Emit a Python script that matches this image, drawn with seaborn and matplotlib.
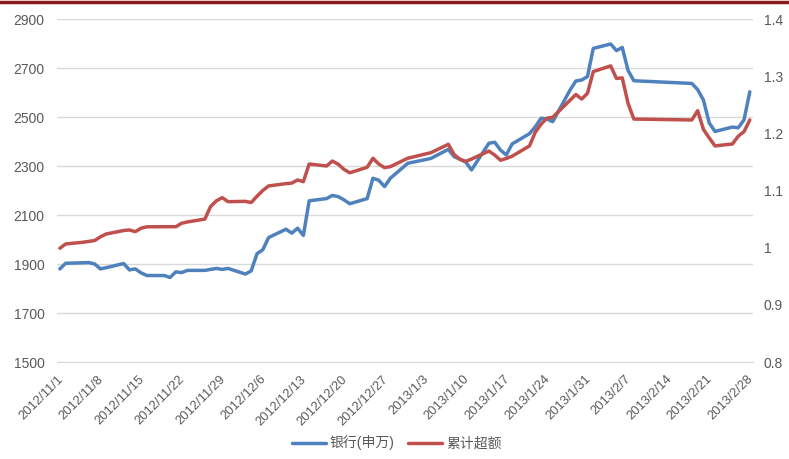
import pandas as pd
import numpy as np
import seaborn as sns
import matplotlib as mpl
from matplotlib import pyplot as plt
from matplotlib.lines import Line2D

## DATA
dates = ['2012-11-01', '2012-11-02', '2012-11-05', '2012-11-06', '2012-11-07', '2012-11-08', '2012-11-09',
         '2012-11-12', '2012-11-13', '2012-11-14', '2012-11-15', '2012-11-16',
         '2012-11-19', '2012-11-20', '2012-11-21', '2012-11-22', '2012-11-23',
         '2012-11-26', '2012-11-27', '2012-11-28', '2012-11-29', '2012-11-30',
         '2012-12-03', '2012-12-04', '2012-12-05', '2012-12-06', '2012-12-07',
         '2012-12-10', '2012-12-11', '2012-12-12', '2012-12-13', '2012-12-14',
         '2012-12-17', '2012-12-18', '2012-12-19', '2012-12-20', '2012-12-21',
         '2012-12-24', '2012-12-25', '2012-12-26', '2012-12-27', '2012-12-28',
         '2012-12-31', '2013-01-04',
         '2013-01-07', '2013-01-08', '2013-01-09', '2013-01-10', '2013-01-11',
         '2013-01-14', '2013-01-15', '2013-01-16', '2013-01-17', '2013-01-18',
         '2013-01-21', '2013-01-22', '2013-01-23', '2013-01-24', '2013-01-25',
         '2013-01-28', '2013-01-29', '2013-01-30', '2013-01-31', '2013-02-01',
         '2013-02-04', '2013-02-05', '2013-02-06', '2013-02-07', '2013-02-08',
         '2013-02-18', '2013-02-19', '2013-02-20', '2013-02-21', '2013-02-22',
         '2013-02-25', '2013-02-26', '2013-02-27', '2013-02-28']

bank_index = [1880, 1903, 1905, 1906, 1900, 1880, 1885,
              1902, 1876, 1880, 1864, 1853,
              1853, 1845, 1868, 1865, 1874,
              1874, 1878, 1882, 1878, 1882,
              1859, 1872, 1942, 1958, 2008,
              2042, 2026, 2046, 2017, 2158,
              2167, 2180, 2175, 2162, 2146,
              2167, 2250, 2242, 2216, 2250,
              2311, 2331,
              2368, 2338, 2328, 2316, 2284,
              2393, 2397, 2365, 2345, 2390,
              2432, 2460, 2495, 2492, 2481,
              2610, 2647, 2651, 2665, 2780,
              2798, 2771, 2784, 2690, 2648,
              2637, 2612, 2569, 2476, 2441,
              2459, 2456, 2488, 2603]

excess = [0.999, 1.0065, 1.0095, 1.011, 1.0125, 1.019, 1.024,
          1.030, 1.031, 1.028, 1.034, 1.0365,
          1.0367, 1.0367, 1.0367, 1.0427, 1.045,
          1.050, 1.072, 1.082, 1.0875, 1.0805,
          1.081, 1.079, 1.090, 1.100, 1.108,
          1.112, 1.113, 1.1184, 1.1155, 1.1464,
          1.1429, 1.1516, 1.146, 1.137, 1.131,
          1.1406, 1.1564, 1.1464, 1.140, 1.1417,
          1.1564, 1.1662,
          1.1808, 1.163, 1.1545, 1.151, 1.155,
          1.169, 1.162, 1.153, 1.156, 1.160,
          1.178, 1.202, 1.216, 1.2265, 1.228,
          1.258, 1.268, 1.260, 1.270, 1.308,
          1.318, 1.296, 1.297, 1.2525, 1.225,
          1.2234, 1.2396, 1.207, 1.192, 1.178,
          1.1814, 1.195, 1.203, 1.2234]

label_bank = '银行(申万)'
label_excess = '累计超额'

df = pd.DataFrame({'date': pd.to_datetime(dates), 'bank': bank_index, 'excess': excess})
# excel date axis puts each point in the middle of its day slot
df['date'] = df['date'] + pd.Timedelta(hours=12)

sns.set_style('white')
plt.rcParams['font.family'] = ['Liberation Sans', 'Noto Sans CJK SC', 'DejaVu Sans']

blue = '#4F81BD'
red = '#C0504D'
grey = '#595959'

fig = plt.figure(figsize=(7.89, 4.59), dpi=100)
ax = fig.add_axes([0.0722, 0.2113, 0.8818, 0.7473])
ax2 = ax.twinx()

sns.lineplot(x='date', y='bank', data=df, ax=ax, color=blue, linewidth=2.5, label=label_bank, legend=False)
sns.lineplot(x='date', y='excess', data=df, ax=ax2, color=red, linewidth=2.5, label=label_excess, legend=False)

# axes ranges
ax.set_ylim(1500, 2900)
ax.set_yticks(np.arange(1500, 2901, 200))
ax2.set_ylim(0.8, 1.4)
ax2.set_yticks([0.8, 0.9, 1.0, 1.1, 1.2, 1.3, 1.4])
ax2.set_yticklabels(['0.8', '0.9', '1', '1.1', '1.2', '1.3', '1.4'])
ax.set_xlim(pd.Timestamp('2012-11-01'), pd.Timestamp('2013-03-01'))

ticks = pd.date_range('2012-11-01', '2013-02-28', freq='7D')
ax.set_xticks(ticks)
ax.set_xticklabels([f'{t.year}/{t.month}/{t.day}' for t in ticks],
                   rotation=45, ha='right', rotation_mode='anchor')

ax.grid(axis='y', color='#D9D9D9', linewidth=1)
ax.set_axisbelow(True)
for a in (ax, ax2):
    for s in ('left', 'right', 'top'):
        a.spines[s].set_visible(False)
    a.set_xlabel('')
    a.set_ylabel('')
ax2.spines['bottom'].set_visible(False)
ax.spines['bottom'].set_color('#D9D9D9')
ax.tick_params(axis='x', direction='out', length=5, color='#D9D9D9', labelsize=9.3, labelcolor=grey, pad=3)
ax.tick_params(axis='y', length=0, labelsize=10, labelcolor=grey, pad=9)
ax2.tick_params(axis='y', length=0, labelsize=10, labelcolor=grey, pad=8)

# legend at the bottom
h1, l1 = ax.get_legend_handles_labels()
h2, l2 = ax2.get_legend_handles_labels()
fig.legend(h1 + h2, l1 + l2, loc='center', bbox_to_anchor=(0.503, 0.035), ncol=2, frameon=False,
           fontsize=10, handlelength=2.4, handletextpad=0.3, columnspacing=1.0,
           labelcolor=grey)

# dark red band on top of the picture
fig.add_artist(Line2D([0, 1], [0.996, 0.996], transform=fig.transFigure, color='#8B1A1A', linewidth=2.5))

fig.savefig('out.png', dpi=100)
